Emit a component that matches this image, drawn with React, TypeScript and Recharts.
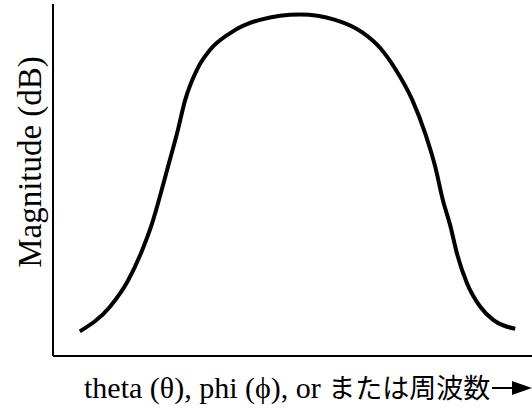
import { LineChart, Line, XAxis, YAxis, Label } from 'recharts';

// angle / frequency, as % of the swept range
const xs = [
  5.6, 11.9, 15.7, 18.6, 20.7, 22.3, 24.0, 25.9, 27.6, 30.3, 32.8, 37.0, 43.2, 51.6,
  58.9, 64.5, 68.3, 71.6, 75.0, 77.7, 79.8, 81.4, 82.9, 84.4, 86.4, 89.2, 91.9, 96.5,
];
// magnitude in dB
const mags = [
  -37.2, -34.4, -31.4, -28.0, -24.9, -21.9, -18.5, -14.7, -10.9, -7.2, -5.2, -3.3, -1.8, -1.2,
  -1.8, -3.2, -5.0, -7.5, -10.9, -14.7, -18.5, -22.3, -25.1, -28.5, -31.7, -34.4, -35.9, -36.9,
];

const data = xs.map((x, i) => ({ x, mag: mags[i] }));

const SERIF = '"Liberation Serif", "Times New Roman", serif';
const CJK = '"Noto Sans CJK JP", sans-serif';

const XLabel = ({ viewBox }: any) => {
  const x = viewBox.x + 31;
  const y = viewBox.y + 42;
  const right = viewBox.x + viewBox.width;
  const ay = viewBox.y + 32;
  return (
    <g>
      <text x={x} y={y} fill='#000' fontFamily={SERIF} fontSize={30}>
        theta (θ), phi (ϕ), or{' '}
        <tspan fontFamily={CJK} fontSize={27}>または周波数</tspan>
      </text>
      <line x1={right - 40} y1={ay} x2={right - 18} y2={ay} stroke='#000' strokeWidth={2} />
      <polygon points={`${right - 20},${ay - 7} ${right},${ay} ${right - 20},${ay + 7}`} fill='#000' />
    </g>
  );
};

const YLabel = ({ viewBox }: any) => {
  const x = viewBox.x + 41;
  const y = viewBox.y + 158;
  return (
    <text x={x} y={y} fill='#000' fontFamily={SERIF} fontSize={33} textAnchor='middle' transform={`rotate(-90, ${x}, ${y})`}>
      Magnitude (dB)
    </text>
  );
};

export default function App() {
  return (
    <div style={{ position: 'absolute', left: 0, top: 0, background: '#fff' }}>
      <LineChart width={532} height={414} data={data} margin={{ top: 4, right: 0, bottom: 0, left: 0 }}>
        <XAxis
          dataKey='x'
          type='number'
          domain={[0, 100]}
          tick={false}
          tickLine={false}
          axisLine={{ stroke: '#000', strokeWidth: 2 }}
          height={58}
        >
          <Label content={XLabel} />
        </XAxis>
        <YAxis
          type='number'
          domain={[-40, 0]}
          tick={false}
          tickLine={false}
          axisLine={{ stroke: '#000', strokeWidth: 2 }}
          width={53}
        >
          <Label content={YLabel} />
        </YAxis>
        <Line
          type='monotone'
          dataKey='mag'
          stroke='#000'
          strokeWidth={4}
          dot={false}
          isAnimationActive={false}
        />
      </LineChart>
    </div>
  );
}
